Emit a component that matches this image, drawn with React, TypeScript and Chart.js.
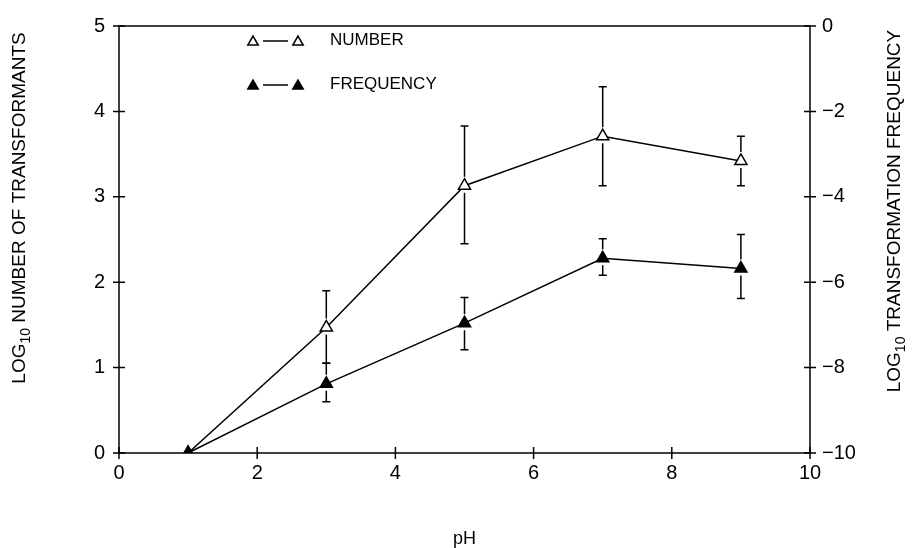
import React, { useEffect, useRef } from "react";
import { Chart, registerables } from "chart.js";
Chart.register(...registerables);

const phValues = [1, 3, 5, 7, 9];
const numberLog = [0, 1.47, 3.13, 3.71, 3.42];
const numberErrHigh = [null, 1.9, 3.83, 4.29, 3.71];
const numberErrLow = [null, 1.05, 2.45, 3.13, 3.13];
const freqLog = [-10, -8.38, -6.96, -5.44, -5.68];
const freqErrHigh = [null, -7.9, -6.36, -4.98, -4.88];
const freqErrLow = [null, -8.8, -7.58, -5.84, -6.38];
const xTicks = [0, 2, 4, 6, 8, 10];
const leftTicks = [0, 1, 2, 3, 4, 5];
const rightTicks = [0, -2, -4, -6, -8, -10];
const legendLabels = ["NUMBER", "FREQUENCY"];
const xTitle = "pH";
const leftTitle = ["LOG", "10", " NUMBER OF TRANSFORMANTS"];
const rightTitle = ["LOG", "10", " TRANSFORMATION FREQUENCY"];

const FONT = "'Liberation Sans', Arial, Helvetica, sans-serif";

function tri(ctx: CanvasRenderingContext2D, x: number, y: number, r: number, filled: boolean) {
  ctx.beginPath();
  for (let i = 0; i < 3; i++) {
    const a = (i * 2 * Math.PI) / 3;
    const px = x + Math.sin(a) * r;
    const py = y - Math.cos(a) * r;
    if (i === 0) ctx.moveTo(px, py);
    else ctx.lineTo(px, py);
  }
  ctx.closePath();
  ctx.fillStyle = filled ? "#000" : "#fff";
  ctx.fill();
  ctx.lineWidth = 1.5;
  ctx.strokeStyle = "#000";
  ctx.stroke();
}

function drawSubTitle(ctx: CanvasRenderingContext2D, parts: string[], cx: number, cy: number, size: number) {
  const big = `${size}px ${FONT}`;
  const small = `${Math.round(size * 0.75)}px ${FONT}`;
  ctx.font = big;
  const w0 = ctx.measureText(parts[0]).width;
  const w2 = ctx.measureText(parts[2]).width;
  ctx.font = small;
  const w1 = ctx.measureText(parts[1]).width;
  const total = w0 + w1 + w2;
  ctx.save();
  ctx.translate(cx, cy);
  ctx.rotate(-Math.PI / 2);
  ctx.fillStyle = "#000";
  ctx.textBaseline = "middle";
  ctx.textAlign = "left";
  let x = -total / 2;
  ctx.font = big;
  ctx.fillText(parts[0], x, 0);
  x += w0;
  ctx.font = small;
  ctx.fillText(parts[1], x, size * 0.3);
  x += w1;
  ctx.font = big;
  ctx.fillText(parts[2], x, 0);
  ctx.restore();
}

const errorBarPlugin = {
  id: "errorBars",
  afterDatasetsDraw(chart: any) {
    const ctx = chart.ctx;
    const xs = chart.scales.x;
    const sets = [
      { scale: chart.scales.y, v: numberLog, hi: numberErrHigh, lo: numberErrLow },
      { scale: chart.scales.y2, v: freqLog, hi: freqErrHigh, lo: freqErrLow },
    ];
    ctx.save();
    ctx.strokeStyle = "#000";
    ctx.lineWidth = 1.5;
    sets.forEach((s) => {
      phValues.forEach((p, i) => {
        const h = s.hi[i];
        const l = s.lo[i];
        if (h == null || l == null) return;
        const px = xs.getPixelForValue(p);
        const py = s.scale.getPixelForValue(s.v[i]);
        const ph = s.scale.getPixelForValue(h);
        const pl = s.scale.getPixelForValue(l);
        ctx.beginPath();
        if (ph < py - 9) {
          ctx.moveTo(px, py - 9);
          ctx.lineTo(px, ph);
          ctx.moveTo(px - 4, ph);
          ctx.lineTo(px + 4, ph);
        }
        if (pl > py + 7) {
          ctx.moveTo(px, py + 7);
          ctx.lineTo(px, pl);
          ctx.moveTo(px - 4, pl);
          ctx.lineTo(px + 4, pl);
        }
        ctx.stroke();
      });
    });
    ctx.restore();
  },
};

const framePlugin = {
  id: "frame",
  afterDraw(chart: any) {
    const ctx = chart.ctx;
    const a = chart.chartArea;
    const xs = chart.scales.x;
    const ys = chart.scales.y;
    const y2 = chart.scales.y2;
    ctx.save();
    ctx.strokeStyle = "#000";
    ctx.lineWidth = 1.5;
    ctx.strokeRect(a.left, a.top, a.right - a.left, a.bottom - a.top);
    ctx.beginPath();
    xTicks.forEach((t) => {
      const x = xs.getPixelForValue(t);
      ctx.moveTo(x, a.bottom - 6);
      ctx.lineTo(x, a.bottom + 6);
    });
    leftTicks.forEach((t) => {
      const y = ys.getPixelForValue(t);
      ctx.moveTo(a.left - 6, y);
      ctx.lineTo(a.left + 6, y);
    });
    rightTicks.forEach((t) => {
      const y = y2.getPixelForValue(t);
      ctx.moveTo(a.right - 6, y);
      ctx.lineTo(a.right + 6, y);
    });
    ctx.stroke();

    // legend
    const lx = 253;
    const rows = [40, 84];
    rows.forEach((ly, i) => {
      const filled = i === 1;
      ctx.beginPath();
      ctx.lineWidth = 1.5;
      ctx.moveTo(lx + 10, ly + 1);
      ctx.lineTo(lx + 35, ly + 1);
      ctx.stroke();
      tri(ctx, lx, ly + 2, 6, filled);
      tri(ctx, lx + 45, ly + 2, 6, filled);
      ctx.fillStyle = "#000";
      ctx.font = `17px ${FONT}`;
      ctx.textAlign = "left";
      ctx.textBaseline = "middle";
      ctx.fillText(legendLabels[i], lx + 77, ly);
    });

    // titles
    ctx.fillStyle = "#000";
    ctx.font = `18px ${FONT}`;
    ctx.textAlign = "center";
    ctx.textBaseline = "middle";
    ctx.fillText(xTitle, (a.left + a.right) / 2, 539);
    drawSubTitle(ctx, leftTitle, 20, 208, 19);
    drawSubTitle(ctx, rightTitle, 895, 211, 19);
    ctx.restore();
  },
};

export default function App() {
  const ref = useRef<HTMLCanvasElement | null>(null);
  useEffect(() => {
    if (!ref.current) return;
    const tickFont = { family: FONT, size: 20 };
    const chart = new Chart(ref.current, {
      type: "line",
      data: {
        datasets: [
          {
            label: legendLabels[0],
            data: phValues.map((p, i) => ({ x: p, y: numberLog[i] })),
            yAxisID: "y",
            order: 1,
            borderColor: "#000",
            borderWidth: 1.5,
            pointStyle: "triangle",
            pointRadius: 7,
            pointBackgroundColor: "#fff",
            pointBorderColor: "#000",
            pointBorderWidth: 1.5,
            tension: 0,
          },
          {
            label: legendLabels[1],
            data: phValues.map((p, i) => ({ x: p, y: freqLog[i] })),
            yAxisID: "y2",
            order: 0,
            borderColor: "#000",
            borderWidth: 1.5,
            pointStyle: "triangle",
            pointRadius: 7,
            pointBackgroundColor: "#000",
            pointBorderColor: "#000",
            pointBorderWidth: 1.5,
            tension: 0,
          },
        ],
      },
      options: {
        animation: false,
        responsive: true,
        maintainAspectRatio: false,
        layout: { padding: { top: 24, left: 0, right: 0, bottom: 0 } },
        plugins: { legend: { display: false }, tooltip: { enabled: false } },
        scales: {
          x: {
            type: "linear",
            min: 0,
            max: 10,
            afterBuildTicks: (s: any) => {
              s.ticks = xTicks.map((v) => ({ value: v }));
            },
            ticks: { font: tickFont, color: "#000", padding: 8, maxRotation: 0 },
            grid: { display: false, drawTicks: false },
            border: { display: false },
            afterFit: (s: any) => {
              s.height = 95;
            },
          },
          y: {
            type: "linear",
            position: "left",
            min: 0,
            max: 5,
            afterBuildTicks: (s: any) => {
              s.ticks = leftTicks.map((v) => ({ value: v }));
            },
            ticks: { font: tickFont, color: "#000", padding: 14 },
            grid: { display: false, drawTicks: false },
            border: { display: false },
            afterFit: (s: any) => {
              s.width = 119;
            },
          },
          y2: {
            type: "linear",
            position: "right",
            min: -10,
            max: 0,
            afterBuildTicks: (s: any) => {
              s.ticks = rightTicks.map((v) => ({ value: v }));
            },
            ticks: {
              font: tickFont,
              color: "#000",
              padding: 12,
              callback: (v: any) => (v < 0 ? "\u2212" + Math.abs(v) : String(v)),
            },
            grid: { display: false, drawTicks: false },
            border: { display: false },
            afterFit: (s: any) => {
              s.width = 107;
            },
          },
        },
      },
      plugins: [errorBarPlugin, framePlugin],
    } as any);
    return () => chart.destroy();
  }, []);
  return (
    <div style={{ position: "fixed", left: 0, top: 0, width: 917, height: 548, background: "#fff" }}>
      <canvas ref={ref} />
    </div>
  );
}
